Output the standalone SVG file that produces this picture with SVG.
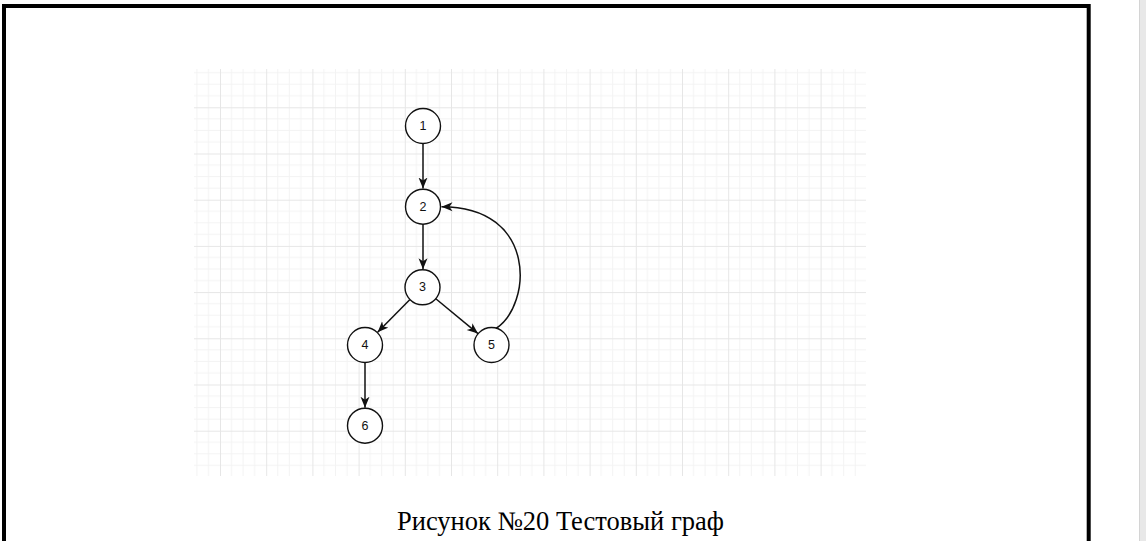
<svg xmlns="http://www.w3.org/2000/svg" width="1146" height="541" viewBox="0 0 1146 541">
  <style>
    .node circle { fill: #ffffff; stroke: #111111; stroke-width: 1.4; }
    .node text { font-family: "Liberation Sans", Arial, sans-serif; font-size: 12.5px; fill: #111111; text-anchor: middle; dominant-baseline: central; }
    .edge { fill: none; stroke: #111111; stroke-width: 1.5; marker-end: url(#arrow); }
    .caption { font-family: "Liberation Serif", "Times New Roman", serif; font-size: 26.5px; fill: #000000; }
  </style>
  <defs>
    <marker id="arrow" markerUnits="userSpaceOnUse" markerWidth="12" markerHeight="10" refX="11" refY="4.5" orient="auto" viewBox="0 0 12 9">
      <path d="M0,0 L11,4.5 L0,9 L3,4.5 Z" fill="#111111"/>
    </marker>
    <pattern id="grid" patternUnits="userSpaceOnUse" x="220" y="107.3" width="46.2" height="46.2">
      <path d="M11.55 0 V46.2 M23.1 0 V46.2 M34.65 0 V46.2 M0 11.55 H46.2 M0 23.1 H46.2 M0 34.65 H46.2" stroke="#f3f3f3" stroke-width="1" fill="none"/>
      <path d="M0.5 0 V46.2 M0 0.5 H46.2" stroke="#e6e6e6" stroke-width="1" fill="none"/>
    </pattern>
  </defs>
  <rect width="1146" height="541" fill="#ffffff"/>
  <rect x="194" y="69" width="672" height="407" fill="url(#grid)"/>
  <path d="M4 541 V6 H1088.7 V541" fill="none" stroke="#000000" stroke-width="4"/>
  <rect x="1139" y="0" width="7" height="541" fill="#e8e8e8"/>
  <rect x="1139" y="0" width="1" height="541" fill="#d4d4d4"/>

  <g id="connectors">
    <path class="edge" d="M423 143.5 V188.5"/>
    <path class="edge" d="M423 224.2 V269.3"/>
    <path class="edge" d="M409.7 299.7 L377.6 332.3"/>
    <path class="edge" d="M435.5 298.5 L478 333.6"/>
    <path class="edge" d="M365 362.5 V407.7"/>
    <path class="edge" d="M496 328.5 C532 305, 538 206.7, 441.5 206.7"/>
  </g>

  <g id="node1" class="node"><circle cx="423" cy="126" r="17.5"/><text x="423" y="126">1</text></g>
  <g id="node2" class="node"><circle cx="423" cy="206.7" r="17.5"/><text x="423" y="206.7">2</text></g>
  <g id="node3" class="node"><circle cx="422.5" cy="287.3" r="17.5"/><text x="422.5" y="287.3">3</text></g>
  <g id="node4" class="node"><circle cx="365" cy="345" r="17.5"/><text x="365" y="345">4</text></g>
  <g id="node5" class="node"><circle cx="491.5" cy="345" r="17.5"/><text x="491.5" y="345">5</text></g>
  <g id="node6" class="node"><circle cx="365" cy="425.7" r="17.5"/><text x="365" y="425.7">6</text></g>

  <text class="caption" x="397" y="529.5">Рисунок №20 Тестовый граф</text>
</svg>
